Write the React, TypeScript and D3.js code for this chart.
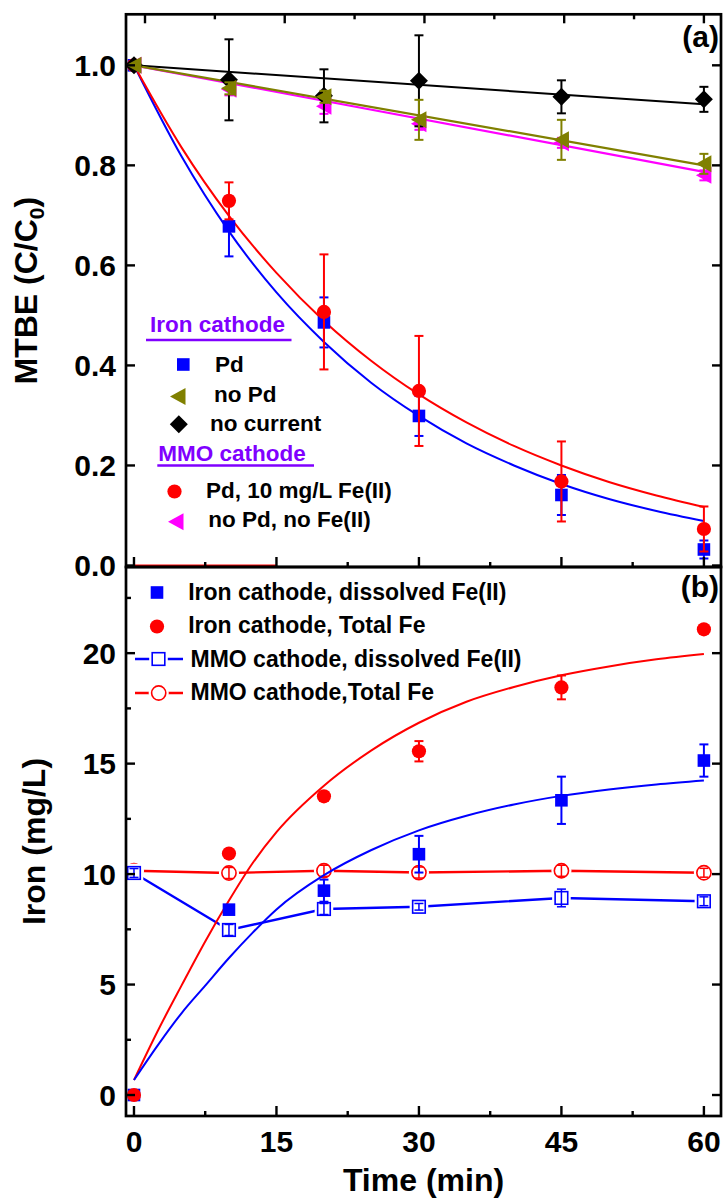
import React from 'react';
import * as d3 from 'd3';

// ---------- Data ----------
const times = [0, 10, 20, 30, 45, 60];

// Panel (a): MTBE C/C0
const ironPd = [1.0, 0.678, 0.486, 0.299, 0.141, 0.032];
const ironPdErr = [0, 0.06, 0.05, 0.04, 0.04, 0.018];
const ironNoPd = [1.0, 0.954, 0.937, 0.891, 0.851, 0.803];
const ironNoPdErr = [0, 0.012, 0.012, 0.04, 0.04, 0.02];
const noCurrent = [1.0, 0.971, 0.939, 0.969, 0.937, 0.932];
const noCurrentErr = [0, 0.081, 0.053, 0.091, 0.033, 0.025];
const mmoPdFe = [1.0, 0.729, 0.507, 0.349, 0.168, 0.073];
const mmoPdFeErr = [0, 0.037, 0.115, 0.11, 0.08, 0.045];
const mmoNoPd = [1.0, 0.952, 0.918, 0.883, 0.845, 0.78];
const mmoNoPdErr = [0, 0.012, 0.015, 0.012, 0.01, 0.01];

const fitTimesA = [0, 5, 10, 15, 20, 25, 30, 35, 40, 45, 50, 55, 60];
const ironPdFit = [1, 0.818, 0.668, 0.546, 0.447, 0.365, 0.299, 0.244, 0.2, 0.163, 0.133, 0.109, 0.089];
const mmoPdFeFit = [1, 0.836, 0.699, 0.585, 0.489, 0.409, 0.342, 0.286, 0.239, 0.2, 0.167, 0.14, 0.117];
const lineTimes = [0, 60];
const noCurrentLine = [1.0, 0.922];
const ironNoPdLine = [1.0, 0.8];
const mmoNoPdLine = [1.0, 0.787];
const baseTimes = [0, 15];
const baseVals = [0, 0];

// Panel (b): Iron mg/L
const ironFe2 = [0, 8.39, 9.25, 10.9, 13.34, 15.14];
const ironFe2Err = [0, 0, 0.5, 0.83, 1.07, 0.73];
const ironTotal = [0, 10.93, 13.52, 15.56, 18.45, 21.08];
const ironTotalErr = [0, 0, 0.2, 0.46, 0.54, 0];
const mmoFe2 = [10.05, 7.47, 8.42, 8.52, 8.92, 8.77];
const mmoFe2Err = [0.2, 0.25, 0.25, 0.15, 0.4, 0.2];
const mmoTotal = [10.15, 10.05, 10.15, 10.07, 10.15, 10.06];
const mmoTotalErr = [0.2, 0.25, 0.25, 0.25, 0.25, 0.2];

const fitTimesB = [0, 2.5, 5, 7.5, 10, 12.5, 15, 20, 25, 30, 35, 40, 45, 50, 55, 60];
const ironTotalFit = [0.68, 2.9, 4.95, 6.95, 8.8, 10.5, 11.9, 14.0, 15.6, 16.85, 17.8, 18.47, 19.0, 19.4, 19.72, 19.96];
const ironFe2Fit = [0.68, 2.25, 3.7, 4.95, 6.2, 7.35, 8.4, 9.95, 11.09, 11.98, 12.64, 13.15, 13.54, 13.83, 14.06, 14.24];

const xMajor = [0, 15, 30, 45, 60];
const xMinor = [7.5, 22.5, 37.5, 52.5];
const yaTicks = [0, 0.2, 0.4, 0.6, 0.8, 1.0];
const ybTicks = [0, 5, 10, 15, 20];
const ybMinor = [2.5, 7.5, 12.5, 17.5, 22.5];

const legendA1 = ['Pd', 'no Pd', 'no current'];
const legendA2 = ['Pd, 10 mg/L Fe(II)', 'no Pd, no Fe(II)'];
const legendB = [
  'Iron cathode, dissolved Fe(II)',
  'Iron cathode, Total Fe',
  'MMO cathode, dissolved Fe(II)',
  'MMO cathode,Total Fe',
];

// ---------- Style ----------
const FONT = '"Liberation Sans", Arial, Helvetica, sans-serif';
const BLUE = '#0000FF';
const RED = '#FF0000';
const OLIVE = '#808000';
const MAGENTA = '#FF00FF';
const PURPLE = '#8000FF';

const L = 126, R = 721, T = 14.3, M = 567, B = 1116;

const x = d3.scaleLinear().domain([-0.84, 61.8]).range([L, R]);
const xTop = d3.scaleLinear().domain([0, 60]).range([x(1.16), x(60)]);
const ya = d3.scaleLinear().domain([-0.003, 1.102]).range([M, T]);
const yb = d3.scaleLinear().domain([-0.95, 23.9]).range([B, M]);

type Shape = 'square' | 'circle' | 'triL' | 'diamond';

function Marker({ shape, cx, cy, fill, stroke, sw = 0 }: { shape: Shape; cx: number; cy: number; fill: string; stroke?: string; sw?: number }) {
  const st = stroke || 'none';
  if (shape === 'square') {
    const s = 12.6;
    return <rect x={cx - s / 2} y={cy - s / 2} width={s} height={s} fill={fill} stroke={st} strokeWidth={sw} />;
  }
  if (shape === 'circle') {
    return <circle cx={cx} cy={cy} r={7.1} fill={fill} stroke={st} strokeWidth={sw} />;
  }
  if (shape === 'triL') {
    const pts = [[cx - 8, cy], [cx + 7.5, cy - 8.5], [cx + 7.5, cy + 8.5]].map((p) => p.join(',')).join(' ');
    return <polygon points={pts} fill={fill} stroke={st} strokeWidth={sw} />;
  }
  const pts = [[cx, cy - 9], [cx + 9, cy], [cx, cy + 9], [cx - 9, cy]].map((p) => p.join(',')).join(' ');
  return <polygon points={pts} fill={fill} stroke={st} strokeWidth={sw} />;
}

function ErrorBars({ vals, errs, y, color, sw = 2 }: { vals: number[]; errs: number[]; y: d3.ScaleLinear<number, number>; color: string; sw?: number }) {
  return (
    <g stroke={color} strokeWidth={sw} fill="none">
      {times.map((t, i) => {
        if (!errs[i]) return null;
        const px = x(t);
        const y1 = y(vals[i] - errs[i]);
        const y2 = y(vals[i] + errs[i]);
        return (
          <g key={i}>
            <line x1={px} x2={px} y1={y1} y2={y2} />
            <line x1={px - 4.5} x2={px + 4.5} y1={y1} y2={y1} />
            <line x1={px - 4.5} x2={px + 4.5} y1={y2} y2={y2} />
          </g>
        );
      })}
    </g>
  );
}

function Series({ vals, errs, y, color, shape, open = false }: { vals: number[]; errs: number[]; y: d3.ScaleLinear<number, number>; color: string; shape: Shape; open?: boolean }) {
  return (
    <g>
      {open &&
        times.map((t, i) => <Marker key={'h' + i} shape={shape} cx={x(t)} cy={y(vals[i])} fill="#fff" stroke="#fff" sw={6} />)}
      {!open && <ErrorBars vals={vals} errs={errs} y={y} color={color} />}
      {times.map((t, i) => (
        <Marker key={i} shape={shape} cx={x(t)} cy={y(vals[i])} fill={open ? '#fff' : color} stroke={open ? color : undefined} sw={open ? 1.6 : 0} />
      ))}
      {open && <ErrorBars vals={vals} errs={errs} y={y} color={color} sw={1.5} />}
    </g>
  );
}

function curvePath(ts: number[], vs: number[], y: d3.ScaleLinear<number, number>, smooth = true) {
  const gen = d3
    .line<number>()
    .x((_, i) => x(ts[i]))
    .y((v) => y(v))
    .curve(smooth ? d3.curveMonotoneX : d3.curveLinear);
  return gen(vs) || '';
}

export default function App() {
  const tickStroke = 2.4;
  return (
    <svg width={724} height={1200} viewBox="0 0 724 1200" style={{ position: 'absolute', left: 0, top: 0, background: '#fff' }} fontFamily={FONT}>
      <rect x={0} y={0} width={724} height={1200} fill="#fff" />

      {/* ---------- Panel (a) ---------- */}
      <g>
        <path d={curvePath(baseTimes, baseVals, ya, false)} stroke={RED} strokeWidth={2} fill="none" />
        <path d={curvePath(fitTimesA, ironPdFit, ya)} stroke={BLUE} strokeWidth={2} fill="none" />
        <path d={curvePath(fitTimesA, mmoPdFeFit, ya)} stroke={RED} strokeWidth={2} fill="none" />
        <path d={curvePath(lineTimes, mmoNoPdLine, ya, false)} stroke={MAGENTA} strokeWidth={2.2} fill="none" />
        <path d={curvePath(lineTimes, noCurrentLine, ya, false)} stroke="#000" strokeWidth={2} fill="none" />
        <path d={curvePath(lineTimes, ironNoPdLine, ya, false)} stroke={OLIVE} strokeWidth={2.2} fill="none" />

        <Series vals={ironPd} errs={ironPdErr} y={ya} color={BLUE} shape="square" />
        <Series vals={mmoPdFe} errs={mmoPdFeErr} y={ya} color={RED} shape="circle" />
        <Series vals={mmoNoPd} errs={mmoNoPdErr} y={ya} color={MAGENTA} shape="triL" />
        <Series vals={noCurrent} errs={noCurrentErr} y={ya} color="#000" shape="diamond" />
        <Series vals={ironNoPd} errs={ironNoPdErr} y={ya} color={OLIVE} shape="triL" />

        {/* legend (a) */}
        <g fontWeight="bold" fontSize={22.5}>
          <text x={150} y={331.7} fill={PURPLE}>Iron cathode</text>
          <line x1={146} x2={291.5} y1={340} y2={340} stroke={PURPLE} strokeWidth={2.7} />
          <Marker shape="square" cx={183.3} cy={364.5} fill={BLUE} />
          <Marker shape="triL" cx={178} cy={396.5} fill={OLIVE} />
          <Marker shape="diamond" cx={178.8} cy={424.3} fill="#000" />
          <text x={215} y={371.7} fill="#000">{legendA1[0]}</text>
          <text x={214} y={402.3} fill="#000">{legendA1[1]}</text>
          <text x={210} y={430.7} fill="#000">{legendA1[2]}</text>
          <text x={158.3} y={460.7} fill={PURPLE}>MMO cathode</text>
          <line x1={157.3} x2={314} y1={465.5} y2={465.5} stroke={PURPLE} strokeWidth={2.7} />
          <Marker shape="circle" cx={174.5} cy={491.5} fill={RED} />
          <Marker shape="triL" cx={176} cy={521.7} fill={MAGENTA} />
          <text x={206} y={498.3} fill="#000">{legendA2[0]}</text>
          <text x={208.3} y={526.7} fill="#000">{legendA2[1]}</text>
        </g>

        <text x={719} y={47} textAnchor="end" fontWeight="bold" fontSize={30}>(a)</text>

        {/* ticks (a) */}
        <g stroke="#000" strokeWidth={tickStroke}>
          {xMajor.map((t) => (
            <g key={'am' + t}>
              <line x1={x(t)} x2={x(t)} y1={M} y2={M - 10} />
              <line x1={xTop(t)} x2={xTop(t)} y1={T} y2={T + 9} />
            </g>
          ))}
          {xMinor.map((t) => (
            <g key={'an' + t}>
              <line x1={x(t)} x2={x(t)} y1={M} y2={M - 5} />
              <line x1={xTop(t)} x2={xTop(t)} y1={T} y2={T + 5} />
            </g>
          ))}
          {yaTicks.map((v) => (
            <g key={'ay' + v}>
              <line x1={L} x2={L + 9} y1={ya(v)} y2={ya(v)} />
              <line x1={R} x2={R - 9} y1={ya(v)} y2={ya(v)} />
            </g>
          ))}
        </g>
        <g fontWeight="bold" fontSize={30} textAnchor="end">
          {yaTicks.map((v) => (
            <text key={'al' + v} x={116} y={ya(v)} dy="0.36em">{d3.format('.1f')(v)}</text>
          ))}
        </g>
        <text transform={`translate(37,${(T + M) / 2}) rotate(-90)`} textAnchor="middle" fontWeight="bold" fontSize={32}>
          MTBE (C/C<tspan fontSize={21} dy={7}>0</tspan><tspan dy={-7}>)</tspan>
        </text>
      </g>

      {/* ---------- Panel (b) ---------- */}
      <g>
        <path d={curvePath(times, mmoTotal, yb, false)} stroke={RED} strokeWidth={2.4} fill="none" />
        <path d={curvePath(times, mmoFe2, yb, false)} stroke={BLUE} strokeWidth={2.4} fill="none" />
        <Series vals={mmoTotal} errs={mmoTotalErr} y={yb} color={RED} shape="circle" open />
        <Series vals={mmoFe2} errs={mmoFe2Err} y={yb} color={BLUE} shape="square" open />

        <path d={curvePath(fitTimesB, ironTotalFit, yb)} stroke={RED} strokeWidth={2} fill="none" />
        <path d={curvePath(fitTimesB, ironFe2Fit, yb)} stroke={BLUE} strokeWidth={2} fill="none" />

        <Series vals={ironFe2} errs={ironFe2Err} y={yb} color={BLUE} shape="square" />
        <Series vals={ironTotal} errs={ironTotalErr} y={yb} color={RED} shape="circle" />

        {/* legend (b) */}
        <g fontWeight="bold" fontSize={23}>
          <Marker shape="square" cx={157} cy={592.5} fill={BLUE} />
          <Marker shape="circle" cx={157} cy={626.5} fill={RED} />
          <line x1={135} x2={183} y1={659} y2={659} stroke={BLUE} strokeWidth={2.4} />
          <Marker shape="square" cx={158.5} cy={659} fill="#fff" stroke="#fff" sw={6} />
          <Marker shape="square" cx={158.5} cy={659} fill="#fff" stroke={BLUE} sw={1.6} />
          <line x1={135} x2={183} y1={693} y2={693} stroke={RED} strokeWidth={2.4} />
          <Marker shape="circle" cx={158.7} cy={693} fill="#fff" stroke="#fff" sw={6} />
          <Marker shape="circle" cx={158.7} cy={693} fill="#fff" stroke={RED} sw={1.6} />
          <text x={188.2} y={600}>{legendB[0]}</text>
          <text x={188.2} y={632.7}>{legendB[1]}</text>
          <text x={190.5} y={667.3}>{legendB[2]}</text>
          <text x={190.5} y={700}>{legendB[3]}</text>
        </g>

        <text x={719} y={597} textAnchor="end" fontWeight="bold" fontSize={30}>(b)</text>

        <g stroke="#000" strokeWidth={tickStroke}>
          {xMajor.map((t) => (
            <line key={'bm' + t} x1={x(t)} x2={x(t)} y1={B} y2={B - 10} />
          ))}
          {xMinor.map((t) => (
            <line key={'bn' + t} x1={x(t)} x2={x(t)} y1={B} y2={B - 5} />
          ))}
          {ybTicks.map((v) => (
            <g key={'by' + v}>
              <line x1={L} x2={L + 9} y1={yb(v)} y2={yb(v)} />
              <line x1={R} x2={R - 9} y1={yb(v)} y2={yb(v)} />
            </g>
          ))}
          {ybMinor.map((v) => (
            <line key={'byn' + v} x1={L} x2={L + 5} y1={yb(v)} y2={yb(v)} />
          ))}
        </g>
        <g fontWeight="bold" fontSize={30} textAnchor="end">
          {ybTicks.map((v) => (
            <text key={'bl' + v} x={116} y={yb(v)} dy="0.36em">{v}</text>
          ))}
        </g>
        <g fontWeight="bold" fontSize={30} textAnchor="middle">
          {xMajor.map((t) => (
            <text key={'xl' + t} x={x(t)} y={1152}>{t}</text>
          ))}
        </g>
        <text transform={`translate(45,${(M + B) / 2}) rotate(-90)`} textAnchor="middle" fontWeight="bold" fontSize={32}>
          Iron (mg/L)
        </text>
        <text x={(L + R) / 2} y={1191} textAnchor="middle" fontWeight="bold" fontSize={32}>Time (min)</text>
      </g>

      {/* frames */}
      <g fill="none" stroke="#000" strokeWidth={2.7}>
        <rect x={L} y={T} width={R - L} height={M - T} />
        <rect x={L} y={M} width={R - L} height={B - M} />
      </g>
    </svg>
  );
}
